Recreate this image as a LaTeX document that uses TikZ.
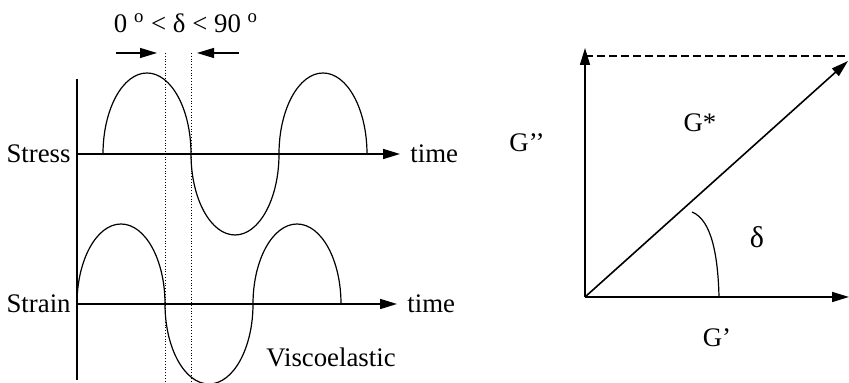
\documentclass[tikz,border=0pt]{standalone}
\usepackage{fontspec}
\setmainfont{Liberation Serif}
\usetikzlibrary{arrows.meta}
\begin{document}
\begin{tikzpicture}[x=0.5pt, y=0.5pt, font=\fontsize{13.4}{16}\selectfont]
        \tikzset{
            axis/.style={draw=black, line width=0.8pt, -{Triangle[length=8.5pt, width=5pt]}},
            wave/.style={draw=black, line width=0.6pt},
            guide/.style={draw=black, densely dotted, line width=0.4pt},
            pointer/.style={draw=black, line width=0.6pt, -{Triangle[length=8.5pt, width=5pt]}},
            projection/.style={draw=black, line width=0.6pt, dash pattern=on 4pt off 2pt},
            labeltext/.style={inner sep=3pt}
        }
        \useasboundingbox (0,0) rectangle (849,383);

        \begin{scope}[shift={(0,0)}]
            \coordinate (top) at (77,304);
            \coordinate (bottom) at (77,3);
            \coordinate (stress0) at (77,229);
            \coordinate (stressT) at (400,229);
            \coordinate (strain0) at (77,79);
            \coordinate (strainT) at (397,79);
            \coordinate (guideA) at (165,330);
            \coordinate (guideB) at (191,330);
            \draw[line width=0.8pt] (bottom) -- (top);
            \draw[axis] (stress0) -- (stressT);
            \draw[axis] (strain0) -- (strainT);
            \draw[wave] (103,229) arc[start angle=180, end angle=0, x radius=44, y radius=81]
                arc[start angle=180, end angle=360, x radius=44, y radius=81]
                arc[start angle=180, end angle=0, x radius=44, y radius=81];
            \draw[wave] (strain0) arc[start angle=180, end angle=0, x radius=44, y radius=80]
                arc[start angle=180, end angle=360, x radius=44, y radius=80]
                arc[start angle=180, end angle=0, x radius=44, y radius=80];
            \draw[guide] (guideA) -- (guideA |- 0,0);
            \draw[guide] (guideB) -- (guideB |- 0,0);
            \coordinate (leftA) at (116,330);
            \coordinate (leftB) at (157,330);
            \coordinate (rightA) at (239,330);
            \coordinate (rightB) at (197,330);
            \draw[pointer] (leftA) -- (leftB);
            \draw[pointer] (rightA) -- (rightB);
            \node (phase) at (186,360) {0 \textsuperscript{o} < δ < 90 \textsuperscript{o}};
            \node[labeltext, anchor=east] (stresslabel) at (stress0) {Stress};
            \node[labeltext, anchor=east] (strainlabel) at (strain0) {Strain};
            \node[labeltext, anchor=west, xshift=2pt] (timeA) at (stressT) {time};
            \node[labeltext, anchor=west, xshift=2pt] (timeB) at (strainT) {time};
            \node (visco) at (331,26) {Viscoelastic};
        \end{scope}

        \begin{scope}[shift={(585,86)}]
            \coordinate (O) at (0,0);
            \coordinate (Gy) at (0,249);
            \coordinate (Gx) at (264,0);
            \coordinate (Gs) at (263,236);
            \coordinate (dashL) at (0,241);
            \coordinate (dashR) at (264,241);
            \draw[axis] (O) -- (Gy);
            \draw[axis] (O) -- (Gx);
            \draw[axis] (O) -- (Gs);
            \draw[projection] (dashL) -- (dashR);
            \draw[wave] (107,85) .. controls (127,77) and (133,40) .. (134,0);
            \node (gstar) at (115,174) {G*};
            \node (gloss) at (-58,154) {G’’};
            \node[font=\fontsize{15}{17}\selectfont] (delta) at (172,60) {δ};
            \node (gstore) at (132,-41) {G’};
        \end{scope}
    \end{tikzpicture}
\end{document}
